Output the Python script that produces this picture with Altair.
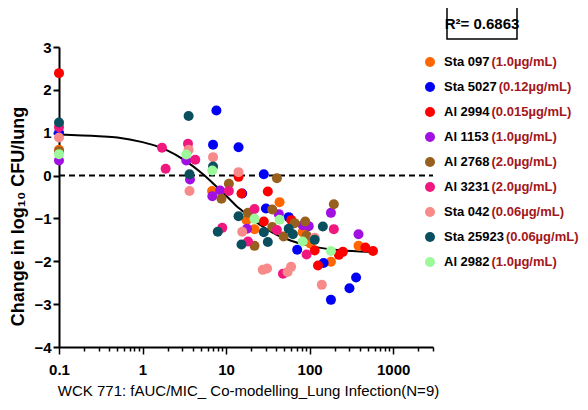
import altair as alt
import pandas as pd

# ---------------- data ----------------
strains = ["Sta 097", "Sta 5027", "Al 2994", "Al 1153", "Al 2768",
           "Al 3231", "Sta 042", "Sta 25923", "Al 2982"]
mics = ["(1.0µg/mL)", "(0.12µg/mL)", "(0.015µg/mL)", "(1.0µg/mL)", "(2.0µg/mL)",
        "(2.0µg/mL)", "(0.06µg/mL)", "(0.06µg/mL)", "(1.0µg/mL)"]
colors = ["#FF6600", "#0000F5", "#FF0000", "#A010E0", "#98601E",
          "#F0187E", "#F88A8A", "#0A4F5E", "#9CF99C"]

sta097_x = [0.1, 6.8, 17.6, 21.9, 43.7, 82.6, 103, 180, 385]
sta097_y = [0.60, -0.36, -1.04, -1.25, -0.62, -1.32, -1.59, -2.01, -1.64]

sta5027_x = [0.1, 7.66, 6.98, 14.1, 15.6, 28.3, 30, 56.2, 71, 147, 180, 300, 360]
sta5027_y = [1.00, 1.52, 0.72, 0.66, -0.42, 0.03, -0.77, -0.97, -1.73, -2.04, -2.90, -2.63, -2.38]

al2994_x = [0.1, 14.1, 15.3, 31.6, 28.3, 60.4, 115, 126, 224, 250, 465, 574]
al2994_y = [2.39, -0.03, -0.42, -0.37, -1.07, -1.04, -1.75, -2.10, -1.85, -1.78, -1.68, -1.76]

al1153_x = [0.1, 3.34, 3.7, 6.85, 8.5, 17.8, 42.8, 82.6, 97.6, 180, 385]
al1153_y = [0.35, 0.35, -0.09, -0.48, -0.35, -1.24, -0.90, -1.16, -1.18, -0.87, -1.37]

al2768_x = [0.1, 8.8, 10.8, 18.3, 21.9, 35.7, 35.7, 40.6, 48.8, 66.1, 88.7, 92, 195]
al2768_y = [0.57, -0.54, -0.19, -0.87, -1.64, -0.79, -1.20, -0.06, -1.42, -1.11, -1.07, -1.40, -0.67]

al3231_x = [0.1, 1.71, 1.89, 3.5, 4.28, 9.0, 10.8, 18.3, 21.9, 40.6, 48, 92, 195]
al3231_y = [1.13, 0.65, 0.16, 0.74, 0.37, -1.22, -0.36, -1.54, -0.78, -1.27, -2.29, -1.84, -1.25]

sta042_x = [0.1, 3.56, 3.65, 6.98, 14.1, 15.6, 27.5, 31, 54.5, 60, 115, 140]
sta042_y = [0.89, 0.60, -0.36, 0.43, 0.08, -1.31, -2.20, -2.17, -2.25, -2.13, -1.45, -2.55]

sta25923_x = [0.1, 3.56, 3.65, 6.98, 7.95, 14.1, 15.3, 28.3, 31.6, 56.2, 63, 115, 144]
sta25923_y = [1.24, 1.39, 0.03, 0.21, -1.31, -0.95, -1.61, -1.32, -1.55, -1.24, -1.37, -1.50, -1.19]

al2982_x = [0.1, 3.34, 6.85, 21.9, 43.7, 82.6, 180]
al2982_y = [0.50, 0.49, 0.12, -1.01, -1.03, -1.54, -1.76]

# fitted curve
curve_x = [0.1, 0.3, 0.5, 1, 1.5, 2, 3, 4, 5, 6, 8, 10, 13, 16, 20, 30, 40, 60, 100, 200, 400, 600]
curve_y = [0.96, 0.92, 0.89, 0.78, 0.68, 0.58, 0.39, 0.22, 0.07, -0.06, -0.29, -0.47,
           -0.69, -0.84, -1.00, -1.24, -1.38, -1.52, -1.64, -1.73, -1.77, -1.78]

zero_x = [0.1, 3000]
zero_y = [0, 0]

x_ticks = [0.1, 0.2, 0.3, 0.4, 0.5, 0.6, 0.7, 0.8, 0.9,
           1, 2, 3, 4, 5, 6, 7, 8, 9,
           10, 20, 30, 40, 50, 60, 70, 80, 90,
           100, 200, 300, 400, 500, 600, 700, 800, 900,
           1000, 2000, 3000]
y_ticks = [-4, -3, -2, -1, 0, 1, 2, 3]

r2_text = "R²= 0.6863"
x_title = "WCK 771: fAUC/MIC_ Co-modelling_Lung Infection(N=9)"
y_title = "Change in log₁₀ CFU/lung"

# ---------------- build tables ----------------
series = [
    (sta097_x, sta097_y), (sta5027_x, sta5027_y), (al2994_x, al2994_y),
    (al1153_x, al1153_y), (al2768_x, al2768_y), (al3231_x, al3231_y),
    (sta042_x, sta042_y), (sta25923_x, sta25923_y), (al2982_x, al2982_y),
]
rows = []
for i, (xs, ys) in enumerate(series):
    for xv, yv in zip(xs, ys):
        rows.append({"strain": strains[i], "order": i, "x": xv, "y": yv})
pts_df = pd.DataFrame(rows)
curve_df = pd.DataFrame({"x": curve_x, "y": curve_y})
zero_df = pd.DataFrame({"x": zero_x, "y": zero_y})
leg_df = pd.DataFrame({"strain": strains, "mic": mics})
r2_df = pd.DataFrame({"t": [r2_text]})

FONT = "Liberation Sans, Arial, Helvetica, sans-serif"

x_scale = alt.Scale(type="log", domain=[0.1, 3000])
y_scale = alt.Scale(domain=[-4, 3])
color_scale = alt.Scale(domain=strains, range=colors)

major_test = "abs(log(datum.value)/LN10 - round(log(datum.value)/LN10)) < 0.000001"

x_axis = alt.Axis(
    values=x_ticks, format="~g",
    labelExpr="abs(log(datum.value)/LN10 - round(log(datum.value)/LN10)) < 0.000001 ? datum.label : ''",
    labelOverlap=False, labelFlush=False, grid=False,
    tickSize={"condition": {"test": major_test, "value": 7}, "value": 4},
    tickWidth=1.5, tickColor="black", domainColor="black", domainWidth=2,
    labelFont=FONT, labelFontSize=15, labelFontWeight="bold", labelColor="black",
    labelPadding=8,
    title=x_title, titleFont=FONT, titleFontSize=15, titleFontWeight="normal",
    titleColor="black", titleX=189, titleY=43, titleAlign="center", titleBaseline="middle",
)
y_axis = alt.Axis(
    values=y_ticks, grid=False, tickSize=6, tickWidth=2, tickColor="black",
    domainColor="black", domainWidth=2,
    labelFont=FONT, labelFontSize=15, labelFontWeight="bold", labelColor="black",
    labelPadding=2,
    title=y_title, titleFont=FONT, titleFontSize=18, titleFontWeight="bold",
    titleColor="black", titleX=-41, titleY=169, titleAngle=270,
    titleAlign="center", titleBaseline="middle",
)

zero_line = alt.Chart(zero_df).mark_line(color="black", strokeWidth=2, strokeDash=[6, 4]).encode(
    x=alt.X("x:Q", scale=x_scale, axis=x_axis),
    y=alt.Y("y:Q", scale=y_scale, axis=y_axis),
)
curve = alt.Chart(curve_df).mark_line(color="black", strokeWidth=2, interpolate="monotone").encode(
    x=alt.X("x:Q", scale=x_scale),
    y=alt.Y("y:Q", scale=y_scale),
)
points = alt.Chart(pts_df).mark_circle(size=100, opacity=1).encode(
    x=alt.X("x:Q", scale=x_scale),
    y=alt.Y("y:Q", scale=y_scale),
    color=alt.Color("strain:N", scale=color_scale, legend=None),
    order=alt.Order("order:Q"),
)
main = alt.layer(zero_line, curve, points)

# ---------------- custom legend ----------------
leg_y = alt.Y("strain:N", scale=alt.Scale(type="point", domain=strains, range=[15, 215], padding=0), axis=None)

leg_dots = alt.Chart(leg_df).mark_circle(size=100, opacity=1).encode(
    x=alt.value(371), y=leg_y,
    color=alt.Color("strain:N", scale=color_scale, legend=None),
)
leg_names = alt.Chart(leg_df).mark_text(
    align="left", baseline="middle", font=FONT, fontSize=13, fontWeight="bold", color="black"
).encode(x=alt.value(385), y=leg_y, text="strain:N")

leg_mics = alt.Chart(leg_df).transform_calculate(
    cx="385 + 13*((indexof(datum.strain,'Sta')==0 ? 1.834 : 1.278) + 0.556*(length(datum.strain) - (indexof(datum.strain,'Sta')==0 ? 4 : 3))) + 2"
).mark_text(
    align="left", baseline="middle", font=FONT, fontSize=13, fontWeight="bold", color="#A3161A"
).encode(x=alt.X("cx:Q", scale=None), y=leg_y, text="mic:N")

r2_box = alt.Chart(r2_df).mark_rect(fill="white", stroke="black", strokeWidth=1.5).encode(
    x=alt.value(388), x2=alt.value(458), y=alt.value(-40), y2=alt.value(-8)
)
r2_label = alt.Chart(r2_df).mark_text(
    align="center", baseline="middle", font=FONT, fontSize=15, fontWeight="bold", color="black"
).encode(x=alt.value(423), y=alt.value(-23.5), text="t:N")

legend = alt.layer(r2_box, r2_label, leg_dots, leg_names, leg_mics)

chart = alt.layer(main, legend).resolve_scale(x="independent", y="independent").properties(
    width=374, height=300,
    autosize=alt.AutoSizeParams(type="none"),
    padding={"left": 51, "top": 39, "right": 147, "bottom": 55},
    background="white",
).configure_view(stroke=None)

chart.save("out.html", embed_options={"renderer": "svg", "actions": False})
